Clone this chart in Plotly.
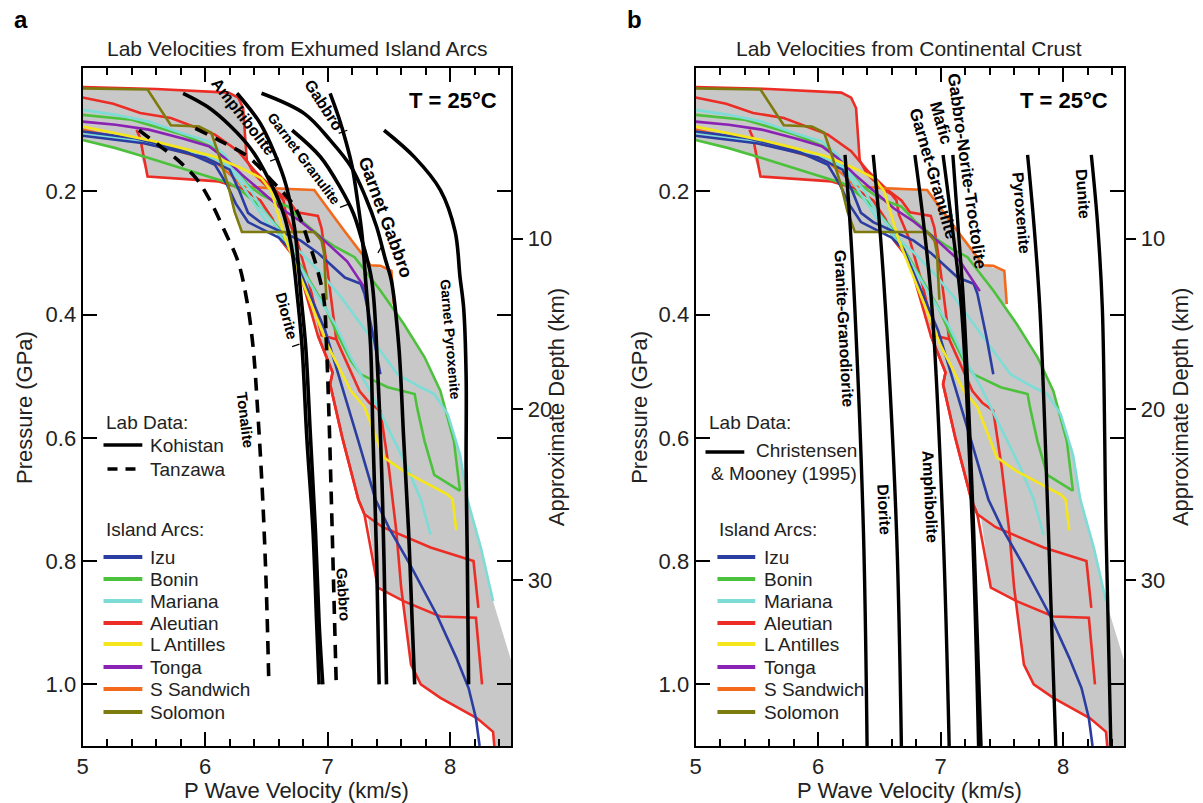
import plotly.graph_objects as go

W, H = 1203, 803

# ---------------- Island-arc lab velocity profiles (Vp km/s, P GPa) ----------------
# None separates individual profiles belonging to the same arc
izu_v = [5.0, 5.43, 5.81, 6.08, 6.18, 6.25, 6.35, 6.50, 6.60, 6.70, 6.98, 7.25, 7.39, 7.50, 7.67, 7.89, 8.05, 8.15, 8.21, 8.24, None,
         5.0, 5.5, 6.0, 6.2, 6.28, 6.35, 6.45, 6.62, 6.78, 6.92, 7.14, 7.27, 7.30, 7.38, 7.43]
izu_p = [0.103, 0.114, 0.133, 0.157, 0.19, 0.22, 0.25, 0.265, 0.275, 0.295, 0.426, 0.605, 0.70, 0.746, 0.805, 0.887, 0.957, 1.006, 1.055, 1.10, None,
         0.110, 0.122, 0.145, 0.165, 0.20, 0.235, 0.25, 0.265, 0.28, 0.30, 0.34, 0.35, 0.366, 0.442, 0.497]

bonin_v = [5.0, 5.4, 5.81, 6.08, 6.22, 6.35, 6.46, 6.57, 6.68, 6.80, 6.95, 7.06, 7.22, 7.43, 7.62, 7.79, 7.92, 8.03, 8.08, None,
           5.0, 5.27, 5.54, 5.81, 6.08, 6.2, 6.3, 6.45, 6.6, 6.72, 6.85, 6.98, 7.08, 7.19, 7.27, 7.49, 7.71, 7.73, 7.79, 7.87, 8.08]
bonin_p = [0.076, 0.084, 0.108, 0.13, 0.157, 0.19, 0.206, 0.217, 0.225, 0.25, 0.275, 0.29, 0.307, 0.361, 0.415, 0.469, 0.524, 0.605, 0.686, None,
           0.117, 0.13, 0.146, 0.163, 0.179, 0.187, 0.20, 0.225, 0.26, 0.30, 0.345, 0.388, 0.432, 0.475, 0.497, 0.518, 0.529, 0.551, 0.605, 0.66, 0.686]

mariana_v = [5.0, 5.27, 5.54, 5.81, 6.03, 6.16, 6.27, 6.38, 6.46, 6.57, 6.68, 6.79, 6.95, 7.11, 7.27, 7.43, 7.57, 7.76, 7.87, 7.98, 8.08, 8.14, 8.25, 8.35, None,
             5.0, 5.5, 6.0, 6.2, 6.3, 6.4, 6.5, 6.6, 6.71, 6.89, 7.06, 7.19, 7.33, 7.49, 7.65, 7.76, 7.84]
mariana_p = [0.068, 0.076, 0.087, 0.106, 0.119, 0.141, 0.173, 0.20, 0.228, 0.255, 0.282, 0.301, 0.334, 0.372, 0.415, 0.459, 0.497, 0.518, 0.529, 0.562, 0.627, 0.70, 0.778, 0.865, None,
             0.105, 0.12, 0.14, 0.16, 0.19, 0.22, 0.25, 0.27, 0.30, 0.361, 0.415, 0.47, 0.518, 0.583, 0.648, 0.70, 0.757]

aleutian_v = [5.0, 5.6, 6.19, 6.27, 6.31, 6.34, 6.40, 6.52, 6.60, 6.64, 6.66, 6.75, 6.85, 6.95, 7.07, 7.26, 7.34, 7.43, 7.50, 7.56, 7.60, 7.68, 7.76, 7.92, 8.22, 8.35, 8.36, None,
              5.0, 5.25, 5.47, 5.72, 6.08, 6.27, 6.41, 6.55, 6.68, 6.75, 6.92, 6.95, 7.0, 7.07, None,
              5.44, 5.47, 5.53, 6.11, 6.30, 6.45, 6.55, 6.62, 6.70, 6.76, 6.92, 7.04, 7.02, 7.12, 7.25, 7.30, 7.45, 7.65, 7.84, 8.19, 8.23, None,
              6.92, 7.04, 7.02, 7.12, 7.25, 7.30, 7.41, 7.62, 7.92, 8.21, 8.26]
aleutian_p = [0.031, 0.034, 0.040, 0.048, 0.065, 0.150, 0.172, 0.195, 0.205, 0.215, 0.238, 0.28, 0.35, 0.434, 0.44, 0.524, 0.543, 0.556, 0.65, 0.751, 0.843, 0.968, 1.0, 1.022, 1.055, 1.077, 1.10, None,
              0.048, 0.058, 0.073, 0.081, 0.108, 0.135, 0.168, 0.195, 0.215, 0.234, 0.240, 0.26, 0.33, 0.44, None,
              0.100, 0.114, 0.176, 0.184, 0.195, 0.215, 0.245, 0.28, 0.30, 0.323, 0.434, 0.494, 0.513, 0.60, 0.70, 0.724, 0.745, 0.762, 0.778, 0.80, 0.876, None,
              0.434, 0.494, 0.513, 0.60, 0.70, 0.724, 0.843, 0.865, 0.89, 0.892, 1.0]

lantilles_v = [5.0, 5.27, 5.54, 5.81, 6.08, 6.30, 6.46, 6.54, 6.59, 6.66, 6.78, 6.88, 7.0, 7.19, 7.30, 7.46, 7.62, 7.98, 8.02, 8.05]
lantilles_p = [0.095, 0.106, 0.117, 0.130, 0.144, 0.163, 0.179, 0.20, 0.233, 0.28, 0.34, 0.39, 0.45, 0.524, 0.55, 0.632, 0.654, 0.692, 0.70, 0.75]

tonga_v = [5.0, 5.27, 5.54, 5.81, 6.03, 6.16, 6.30, 6.46, 6.62, 6.78, 6.95, 7.16, 7.32]
tonga_p = [0.087, 0.092, 0.100, 0.114, 0.127, 0.146, 0.173, 0.200, 0.228, 0.249, 0.276, 0.314, 0.362]

ssandwich_v = [5.0, 5.4, 5.7, 6.08, 6.24, 6.30, 6.54, 6.89, 7.12, 7.35, 7.43, 7.52, 7.54]
ssandwich_p = [0.100, 0.118, 0.13, 0.152, 0.179, 0.192, 0.195, 0.198, 0.26, 0.320, 0.321, 0.329, 0.383]

solomon_v = [5.0, 5.53, 5.72, 5.95, 6.05, 6.11, 6.19, 6.24, 6.30, 6.89, 6.95, 6.97, 6.99]
solomon_p = [0.033, 0.035, 0.093, 0.095, 0.105, 0.140, 0.192, 0.233, 0.266, 0.266, 0.280, 0.30, 0.376]

# outline of the shaded range covered by all arc profiles
envelope_v = [5.0, 5.6, 6.19, 6.27, 6.31, 6.34, 6.40, 6.52, 6.89, 7.35, 7.52, 7.54, 7.51, 7.62, 7.79, 7.92, 7.98, 8.08, 8.14, 8.25, 8.35, 8.50, 8.72,
              8.36, 8.36, 8.35, 8.22, 7.92, 7.76, 7.68, 7.62, 7.41, 7.33, 7.30, 7.25, 7.12, 7.02, 7.04, 6.92, 6.76, 6.70, 6.62, 6.58,
              6.30, 6.24, 6.19, 6.11, 5.53, 5.47, 5.27, 5.0]
envelope_p = [0.031, 0.034, 0.040, 0.048, 0.065, 0.150, 0.172, 0.192, 0.198, 0.320, 0.329, 0.383, 0.385, 0.415, 0.469, 0.524, 0.562, 0.627, 0.70, 0.778, 0.865, 0.963, 1.12,
              1.12, 1.10, 1.077, 1.055, 1.022, 1.0, 0.968, 0.866, 0.843, 0.73, 0.724, 0.70, 0.60, 0.513, 0.494, 0.434, 0.323, 0.30, 0.28, 0.266,
              0.266, 0.233, 0.192, 0.184, 0.176, 0.14, 0.13, 0.117]

arc_names = ["Izu", "Bonin", "Mariana", "Aleutian", "L Antilles", "Tonga", "S Sandwich", "Solomon"]
arc_colors = ["#2b3da0", "#4cc23c", "#7ddcd6", "#ec2d25", "#f5e61c", "#8a22b4", "#f36a1c", "#7d7a0e"]
arc_v = [izu_v, bonin_v, mariana_v, aleutian_v, lantilles_v, tonga_v, ssandwich_v, solomon_v]
arc_p = [izu_p, bonin_p, mariana_p, aleutian_p, lantilles_p, tonga_p, ssandwich_p, solomon_p]
draw_order = [3, 6, 1, 2, 0, 5, 4, 7]

# ---------------- Kohistan (solid) and Tanzawa (dashed) rock curves ----------------
kohistan = {
    "Diorite": ([5.82, 6.02, 6.21, 6.38, 6.51, 6.62, 6.70, 6.75, 6.79, 6.83, 6.88, 6.91, 6.93],
                [0.041, 0.063, 0.095, 0.133, 0.177, 0.225, 0.285, 0.366, 0.45, 0.60, 0.75, 0.90, 1.0]),
    "Amphibolite": ([6.26, 6.45, 6.57, 6.66, 6.73, 6.78, 6.82, 6.86, 6.90, 6.93, 6.96],
                    [0.041, 0.090, 0.140, 0.190, 0.260, 0.366, 0.45, 0.60, 0.75, 0.90, 1.0]),
    "Gabbro": ([7.02, 7.09, 7.15, 7.20, 7.24, 7.28, 7.31, 7.35, 7.37, 7.40, 7.42],
               [0.041, 0.08, 0.12, 0.16, 0.21, 0.27, 0.345, 0.45, 0.60, 0.80, 1.0]),
    "Garnet Granulite": ([6.71, 6.94, 7.10, 7.21, 7.28, 7.36, 7.41, 7.44, 7.46, 7.48],
                         [0.101, 0.144, 0.193, 0.236, 0.28, 0.345, 0.50, 0.65, 0.80, 1.0]),
    "Garnet Gabbro": ([6.46, 6.81, 7.02, 7.19, 7.31, 7.40, 7.47, 7.52, 7.58, 7.62, 7.66, 7.69, 7.71],
                      [0.041, 0.074, 0.117, 0.16, 0.21, 0.258, 0.31, 0.345, 0.45, 0.60, 0.75, 0.90, 1.0]),
    "Garnet Pyroxenite": ([7.46, 7.71, 7.92, 8.04, 8.08, 8.11, 8.13, 8.13, 8.14, 8.15],
                          [0.101, 0.145, 0.198, 0.265, 0.339, 0.39, 0.50, 0.65, 0.80, 1.0]),
}
tanzawa = {
    "Tonalite": ([5.46, 5.62, 5.78, 5.93, 6.04, 6.16, 6.27, 6.34, 6.39, 6.43, 6.47, 6.50, 6.52],
                 [0.101, 0.125, 0.15, 0.18, 0.215, 0.265, 0.315, 0.377, 0.45, 0.56, 0.70, 0.85, 1.0]),
    "Gabbro": ([5.92, 6.11, 6.35, 6.54, 6.73, 6.84, 6.92, 6.97, 6.99, 7.01, 7.03, 7.05, 7.07],
               [0.098, 0.117, 0.144, 0.182, 0.225, 0.28, 0.33, 0.377, 0.45, 0.56, 0.70, 0.85, 1.0]),
}

# ---------------- Christensen & Mooney (1995) continental rock curves ----------------
cm_p = [0.141, 0.25, 0.39, 0.75, 1.10]
christensen_mooney = {
    "Granite-Granodiorite": [6.22, 6.26, 6.30, 6.37, 6.40],
    "Diorite": [6.45, 6.50, 6.55, 6.64, 6.68],
    "Amphibolite": [6.79, 6.86, 6.93, 7.02, 7.07],
    "Garnet-Granulite": [7.02, 7.09, 7.17, 7.26, 7.31],
    "Gabbro-Norite-Troctolite": [7.10, 7.14, 7.19, 7.27, 7.33],
    "Pyroxenite": [7.71, 7.76, 7.81, 7.88, 7.94],
    "Dunite": [8.23, 8.28, 8.32, 8.35, 8.39],
}

# rotated rock-type labels: (text, v, P, angle, font size)
labels_a = [
    ("Amphibolite", 6.31, 0.079, 52, 16),
    ("Garnet Granulite", 6.81, 0.147, 53, 14),
    ("Gabbro", 6.97, 0.061, 57, 16),
    ("Garnet Gabbro", 7.47, 0.242, 70, 18),
    ("Diorite", 6.665, 0.402, 75, 15),
    ("Garnet Pyroxenite", 8.0, 0.44, 85, 14),
    ("Tonalite", 6.33, 0.57, 83, 15),
    ("Gabbro", 7.13, 0.854, 86, 15),
]
# short leader ticks joining some labels to their curves: (v0, P0, v1, P1)
leaders_a = [
    (6.53, 0.151, 6.60, 0.146),
    (7.10, 0.226, 7.17, 0.221),
    (7.09, 0.106, 7.16, 0.101),
    (7.44, 0.290, 7.41, 0.300),
    (6.71, 0.452, 6.77, 0.448),
]
labels_b = [
    ("Granite-Granodiorite", 6.21, 0.423, 87, 16),
    ("Diorite", 6.54, 0.716, 87, 16),
    ("Amphibolite", 6.91, 0.696, 87, 16),
    ("Garnet-Granulite", 6.94, 0.171, 74, 17),
    ("Mafic", 7.0, 0.089, 74, 17),
    ("Gabbro-Norite-Troctolite", 7.21, 0.167, 82, 17),
    ("Pyroxenite", 7.66, 0.236, 85, 16),
    ("Dunite", 8.16, 0.204, 86, 16),
]

DEPTH_PER_GPA = 36.1
P_MAX = 1.1
FONT = "Liberation Sans, Arial, sans-serif"

fig = go.Figure()

panels = [("x", "y"), ("x2", "y2")]
for xa, ya in panels:
    fig.add_trace(go.Scatter(x=envelope_v, y=envelope_p, mode="lines", fill="toself",
                             fillcolor="#c8c8c8", line=dict(width=0), xaxis=xa, yaxis=ya,
                             showlegend=False, hoverinfo="skip"))
    for i in draw_order:
        fig.add_trace(go.Scatter(x=arc_v[i], y=arc_p[i], mode="lines", name=arc_names[i],
                                 line=dict(color=arc_colors[i], width=2.6), xaxis=xa, yaxis=ya,
                                 showlegend=False, connectgaps=False))

for name, (v, p) in kohistan.items():
    fig.add_trace(go.Scatter(x=v, y=p, mode="lines", name=name, line=dict(color="black", width=3.6, shape="spline"),
                             xaxis="x", yaxis="y", showlegend=False))
for name, (v, p) in tanzawa.items():
    fig.add_trace(go.Scatter(x=v, y=p, mode="lines", name=name,
                             line=dict(color="black", width=3.6, dash="13px,9px", shape="spline"),
                             xaxis="x", yaxis="y", showlegend=False))
for name, v in christensen_mooney.items():
    fig.add_trace(go.Scatter(x=v, y=cm_p, mode="lines", name=name, line=dict(color="black", width=3.4, shape="spline"),
                             xaxis="x2", yaxis="y2", showlegend=False))

# ---------------- axes ----------------
def px(x):
    return x / W

def py(y):
    return 1 - y / H

dom_a = [px(77), px(508)]
dom_b = [px(693), px(1124)]
dom_y = [py(746), py(68)]

xcommon = dict(range=[5, 8.5], tickvals=[5, 6, 7, 8], ticks="inside", ticklen=14, tickwidth=2,
               tickcolor="black", showline=True, linewidth=2, linecolor="black", mirror="ticks",
               showgrid=False, zeroline=False, tickfont=dict(family=FONT, size=22, color="#222"),
               minor=dict(dtick=0.2, ticks="inside", ticklen=7, tickwidth=1.5, tickcolor="black", showgrid=False))
ycommon = dict(range=[P_MAX, 0], tickvals=[0.2, 0.4, 0.6, 0.8, 1.0], ticktext=["0.2", "0.4", "0.6", "0.8", "1.0"],
               ticks="inside", ticklen=14, tickwidth=2, tickcolor="black", showline=True, linewidth=2,
               linecolor="black", mirror="ticks", showgrid=False, zeroline=False,
               tickfont=dict(family=FONT, size=22, color="#222"), domain=dom_y)
dcommon = dict(range=[P_MAX * DEPTH_PER_GPA, 0], tickvals=[10, 20, 30], ticks="outside", ticklen=11, tickwidth=2,
               tickcolor="black", showline=False, showgrid=False, zeroline=False, side="right",
               tickfont=dict(family=FONT, size=22, color="#222"))

fig.update_layout(
    xaxis=dict(domain=dom_a, anchor="y", **xcommon),
    xaxis2=dict(domain=dom_b, anchor="y2", **xcommon),
    yaxis=dict(anchor="x", **ycommon),
    yaxis2=dict(anchor="x2", **ycommon),
    yaxis3=dict(overlaying="y", anchor="x", **dcommon),
    yaxis4=dict(overlaying="y2", anchor="x2", **dcommon),
)
# empty traces so the depth axes render
fig.add_trace(go.Scatter(x=[None], y=[None], xaxis="x", yaxis="y3", showlegend=False))
fig.add_trace(go.Scatter(x=[None], y=[None], xaxis="x2", yaxis="y4", showlegend=False))

ann = []
shapes = []

def text(x, y, s, size=19, bold=False, xanchor="center", angle=0, xref="paper", yref="paper", color="#222"):
    ann.append(dict(x=x, y=y, xref=xref, yref=yref, text=f"<b>{s}</b>" if bold else s, showarrow=False,
                    xanchor=xanchor, yanchor="middle", textangle=angle,
                    font=dict(family=FONT, size=size, color=color)))

# panel letters and titles
text(px(15), py(20), "a", size=24, bold=True, color="black")
text(px(632), py(20), "b", size=24, bold=True, color="black")
text(px(293), py(48), "Lab Velocities from Exhumed Island Arcs", size=21)
text(px(908), py(48), "Lab Velocities from Continental Crust", size=21)
text(8.02, 0.052, "T = 25°C", size=22, bold=True, xref="x", yref="y", color="black")
text(8.01, 0.052, "T = 25°C", size=22, bold=True, xref="x2", yref="y2", color="black")

# axis titles
for cx in (292, 908):
    text(px(cx), py(790), "P Wave Velocity (km/s)", size=22)
text(px(18), py(407), "Pressure (GPa)", size=22, angle=-90)
text(px(636), py(407), "Pressure (GPa)", size=22, angle=-90)
text(px(553), py(407), "Approximate Depth (km)", size=22, angle=-90)
text(px(1180), py(407), "Approximate Depth (km)", size=22, angle=-90)

# rock labels
for s, v, p, a, fs in labels_a:
    text(v, p, s, size=fs, bold=True, angle=a, xref="x", yref="y", color="black")
for s, v, p, a, fs in labels_b:
    text(v, p, s, size=fs, bold=True, angle=a, xref="x2", yref="y2", color="black")
for v0, p0, v1, p1 in leaders_a:
    shapes.append(dict(type="line", xref="x", yref="y", x0=v0, y0=p0, x1=v1, y1=p1,
                       line=dict(color="black", width=1.3)))

# legends
def key(x0, x1, y, color, dash="solid", width=3.6):
    shapes.append(dict(type="line", xref="paper", yref="paper", x0=px(x0), x1=px(x1), y0=py(y), y1=py(y),
                       line=dict(color=color, width=width, dash=dash)))

text(px(98), py(422), "Lab Data:", xanchor="left")
key(98, 137, 445, "black")
text(px(143), py(445), "Kohistan", xanchor="left")
key(102, 137, 469, "black", dash="10px,8px")
text(px(143), py(469), "Tanzawa", xanchor="left")

text(px(705), py(422), "Lab Data:", xanchor="left")
key(703, 742, 452, "black")
text(px(752), py(450), "Christensen", xanchor="left")
text(px(707), py(473), "& Mooney (1995)", xanchor="left")

entry_y = [557, 579, 601, 623, 644, 667, 689, 712]
for lx0, lx1, tx, hx in [(98, 137, 143, 98), (715, 753, 760, 715)]:
    text(px(hx), py(529), "Island Arcs:", xanchor="left")
    for name, col, yy in zip(arc_names, arc_colors, entry_y):
        key(lx0, lx1, yy, col, width=4)
        text(px(tx), py(yy), name, xanchor="left")

fig.update_layout(
    width=W, height=H, margin=dict(l=0, r=0, t=0, b=0),
    paper_bgcolor="white", plot_bgcolor="white",
    annotations=ann, shapes=shapes, showlegend=False,
)

fig.write_html("out.html")
